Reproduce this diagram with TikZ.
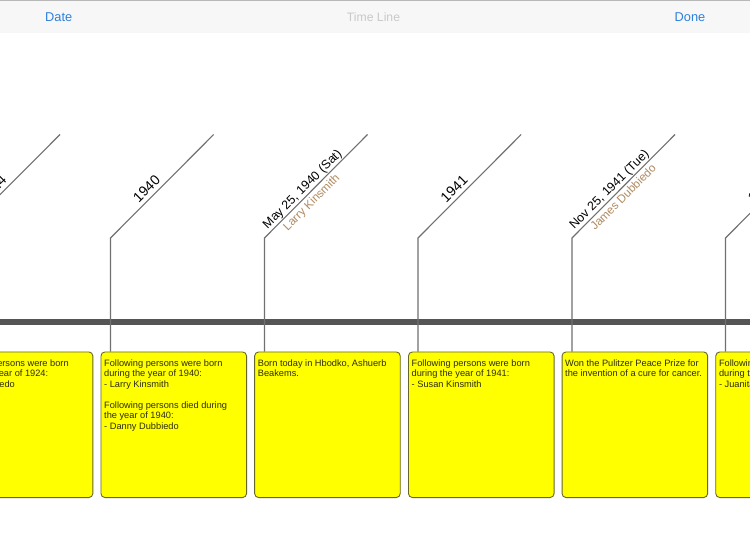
\documentclass[tikz,border=0pt]{standalone}
\usepackage{fontspec}
\setmainfont{Liberation Sans}
\definecolor{barblue}{HTML}{2F7FDD}
\definecolor{titlegrey}{HTML}{C9C9C9}
\definecolor{barbg}{HTML}{F7F7F7}
\definecolor{barline}{HTML}{B8B8B8}
\definecolor{axisgrey}{HTML}{555555}
\definecolor{stemgrey}{HTML}{707070}
\definecolor{cardedge}{HTML}{66662A}
\definecolor{namebrown}{HTML}{B08A60}
\definecolor{cardyellow}{RGB}{255,255,0}
\definecolor{cardink}{RGB}{45,45,10}
\tikzset{
  x=1pt,y=-1pt,
  card/.style={draw=cardedge,line width=0.9pt,fill=cardyellow,rounded corners=4pt,minimum width=145.6pt,minimum height=145.6pt,anchor=north west,inner sep=0pt},
  cardtext/.style={anchor=north west,align=left,inner sep=0pt,font=\fontsize{9.25pt}{10.5pt}\selectfont,text=cardink},
  stem/.style={draw=stemgrey,line width=1.1pt},
  datelabel/.style={rotate=45,anchor=base,inner sep=0pt,font=\fontsize{12.4pt}{16pt}\selectfont,text=black},
  yearlabel/.style={rotate=45,anchor=base,inner sep=0pt,font=\fontsize{14pt}{16pt}\selectfont,text=black},
  namelabel/.style={rotate=45,anchor=base,inner sep=0pt,font=\fontsize{11.6pt}{14pt}\selectfont,text=namebrown},
  barbutton/.style={inner sep=0pt,anchor=base,font=\fontsize{12.8pt}{15pt}\selectfont,text=barblue},
}
\begin{document}
\begin{tikzpicture}
\useasboundingbox (0,0) rectangle (750,548);
\clip (0,0) rectangle (750,548);
\fill[white] (0,0) rectangle (750,548);
% top bar
\fill[barbg] (0,0) rectangle (750,33);
\fill[barline] (0,0) rectangle (750,1);
\node[barbutton] (date) at (58.7,21.5) {Date};
\node[barbutton,text=titlegrey,font=\fontsize{12.2pt}{15pt}\selectfont] (title) at (373.5,21.5) {Time Line};
\node[barbutton] (done) at (690,21.5) {Done};
% cards
\node[card] (c0) at (-53.2,351.5) {};
\node[card] (c1) at (100.5,351.5) {};
\node[card] (c2) at (254.2,351.5) {};
\node[card] (c3) at (408,351.5) {};
\node[card] (c4) at (561.6,351.5) {};
\node[card] (c5) at (715.3,351.5) {};
% elbows and tips
\coordinate (e0) at (-43.2,238); \coordinate (t0) at (60,134.5);
\coordinate (e1) at (110.5,238); \coordinate (t1) at (213.7,134.5);
\coordinate (e2) at (264.5,238); \coordinate (t2) at (367.5,134.5);
\coordinate (e3) at (418,238);   \coordinate (t3) at (521.2,134.5);
\coordinate (e4) at (572,238);   \coordinate (t4) at (675,134.5);
\coordinate (e5) at (725.5,238); \coordinate (t5) at (828.7,134.5);
% axis
\coordinate (axl) at (0,322); \coordinate (axr) at (750,322);
\draw[axisgrey,line width=5.5pt] (axl) -- (axr);
% stems
\foreach \i in {0,...,5} {\draw[stem] (c\i.north -| e\i) -- (e\i) -- (t\i);}
% date labels
\node[yearlabel] (l0) at (-3.7,192) {1924};
\node[yearlabel] (l1) at (150,192) {1940};
\node[datelabel] (l2) at (305,192) {May 25, 1940 (Sat)};
\node[yearlabel] (l3) at (457.5,192) {1941};
\node[datelabel] (l4) at (612,192) {Nov 25, 1941 (Tue)};
\node[yearlabel] (l5) at (764.7,192) {1942};
\node[namelabel] (n2) at (314,205) {Larry Kinsmith};
\node[namelabel] (n4) at (626,200) {James Dubbiedo};
% card text
\node[cardtext] (x0) at (-49.7,359.2) {Following persons were born\\during the year of 1924:};
\node[cardtext,anchor=north east] (x0b) at (15,380.2) {Dubbiedo};
\node[cardtext] (x1) at (104,359.2) {Following persons were born\\during the year of 1940:\\- Larry Kinsmith\\[10.5pt]Following persons died during\\the year of 1940:\\- Danny Dubbiedo};
\node[cardtext] (x2) at (257.7,359.2) {Born today in Hbodko, Ashuerb\\Beakems.};
\node[cardtext] (x3) at (411.5,359.2) {Following persons were born\\during the year of 1941:\\- Susan Kinsmith};
\node[cardtext] (x4) at (565,359.2) {Won the Pulitzer Peace Prize for\\the invention of a cure for cancer.};
\node[cardtext] (x5) at (718.8,359.2) {Following persons were born\\during the year of 1942:\\- Juanita};
\end{tikzpicture}
\end{document}
